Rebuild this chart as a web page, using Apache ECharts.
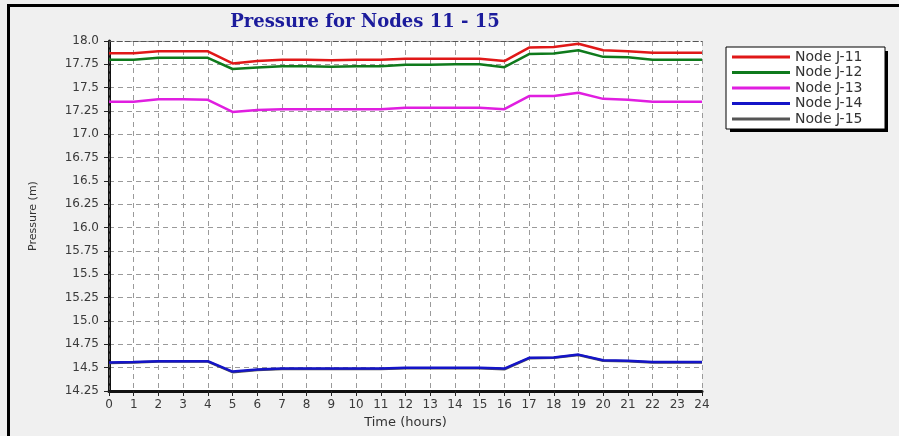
<!DOCTYPE html>
<html>
<head>
<meta charset="utf-8">
<title>Pressure for Nodes 11 - 15</title>
<script src="https://cdn.jsdelivr.net/npm/echarts@6/dist/echarts.min.js"></script>
<style>
  html, body { margin: 0; padding: 0; background: #f0f0f0; }
  #chart { width: 899px; height: 436px; }
</style>
</head>
<body>
<div id="chart"></div>
<script>
// Hours of the extended-period simulation
const hours = [0, 1, 2, 3, 4, 5, 6, 7, 8, 9, 10, 11, 12, 13, 14, 15, 16, 17, 18, 19, 20, 21, 22, 23, 24];

// Pressure (m) at each node, one value per hour
const nodeJ11 = [17.87, 17.87, 17.89, 17.89, 17.89, 17.76, 17.785, 17.80, 17.80, 17.795, 17.80, 17.80, 17.81, 17.81, 17.81, 17.81, 17.785, 17.93, 17.935, 17.97, 17.90, 17.89, 17.875, 17.875, 17.875];
const nodeJ12 = [17.80, 17.80, 17.82, 17.82, 17.82, 17.70, 17.715, 17.73, 17.73, 17.725, 17.73, 17.73, 17.745, 17.745, 17.75, 17.75, 17.72, 17.86, 17.865, 17.90, 17.83, 17.825, 17.80, 17.80, 17.80];
const nodeJ13 = [17.35, 17.35, 17.375, 17.375, 17.37, 17.24, 17.26, 17.27, 17.27, 17.27, 17.27, 17.27, 17.285, 17.285, 17.285, 17.285, 17.27, 17.41, 17.41, 17.445, 17.38, 17.37, 17.35, 17.35, 17.35];
const nodeJ14 = [14.555, 14.56, 14.57, 14.57, 14.57, 14.458, 14.48, 14.49, 14.49, 14.49, 14.49, 14.49, 14.50, 14.50, 14.50, 14.50, 14.49, 14.605, 14.61, 14.64, 14.58, 14.575, 14.56, 14.56, 14.56];
const nodeJ15 = [14.55, 14.555, 14.565, 14.565, 14.565, 14.452, 14.475, 14.485, 14.485, 14.485, 14.485, 14.485, 14.495, 14.495, 14.495, 14.495, 14.483, 14.60, 14.605, 14.635, 14.575, 14.57, 14.555, 14.555, 14.555];

const seriesNames = ['Node J-11', 'Node J-12', 'Node J-13', 'Node J-14', 'Node J-15'];

// Pressure axis tick labels, bottom to top
const yTickLabels = ['14.25', '14.5', '14.75', '15.0', '15.25', '15.5', '15.75', '16.0', '16.25', '16.5', '16.75', '17.0', '17.25', '17.5', '17.75', '18.0'];
const xTickLabels = hours.map(String);

const Y_MIN = 14.25, Y_MAX = 18.0, Y_STEP = 0.25;

const colors = ['#e01818', '#0f7a1c', '#e01ee0', '#1414c8', '#555555'];
const values = [nodeJ11, nodeJ12, nodeJ13, nodeJ14, nodeJ15];
const zOrder = [5, 4, 3, 6, 2];

const labelFont = 'DejaVu Sans';
const gridLine = { show: true, lineStyle: { color: '#9a9a9a', type: [5, 4], width: 1 } };

// legend box placement
const LEG_X = 726, LEG_Y = 47, LEG_W = 158, LEG_H = 81;

const chart = echarts.init(document.getElementById('chart'), null, { renderer: 'canvas' });

chart.setOption({
  backgroundColor: '#f0f0f0',
  animation: false,
  title: {
    text: 'Pressure for Nodes 11 - 15',
    left: 360,
    top: 8,
    textAlign: 'center',
    textStyle: {
      fontFamily: 'DejaVu Serif',
      fontWeight: 'bold',
      fontSize: 18,
      color: '#1c1c9c'
    }
  },
  legend: {
    orient: 'vertical',
    left: LEG_X,
    top: LEG_Y,
    padding: [3, 6, 3, 6],
    itemWidth: 58,
    itemHeight: 3,
    itemGap: 1.5,
    icon: 'rect',
    backgroundColor: '#ffffff',
    borderColor: '#000000',
    borderWidth: 1,
    borderRadius: 0,
    z: 10,
    textStyle: {
      fontFamily: labelFont,
      fontSize: 14,
      lineHeight: 14,
      color: '#333333',
      width: 84
    },
    data: seriesNames
  },
  grid: {
    left: 109,
    right: 197,
    top: 41,
    bottom: 45,
    show: true,
    backgroundColor: '#ffffff',
    borderWidth: 0
  },
  xAxis: [{
    type: 'value',
    min: 0,
    max: 24,
    interval: 1,
    name: 'Time (hours)',
    nameLocation: 'middle',
    nameGap: 25,
    nameTextStyle: { fontFamily: labelFont, fontSize: 13, color: '#333333' },
    axisLine: { show: true, onZero: false, lineStyle: { color: '#111111', width: 3 } },
    axisTick: { show: true, length: 5, lineStyle: { color: '#222222', width: 1 } },
    axisLabel: {
      margin: 8,
      fontFamily: labelFont,
      fontSize: 12,
      color: '#3a3a3a',
      formatter: v => xTickLabels[hours.indexOf(v)] ?? ''
    },
    splitLine: gridLine
  }, {
    type: 'value',
    position: 'top',
    min: 0,
    max: 24,
    interval: 1,
    axisLine: { show: true, lineStyle: { color: '#555555', width: 1, type: [5, 3] } },
    axisTick: { show: false },
    axisLabel: { show: false },
    splitLine: { show: false }
  }],
  yAxis: [{
    type: 'value',
    min: Y_MIN,
    max: Y_MAX,
    interval: Y_STEP,
    name: 'Pressure (m)',
    nameLocation: 'middle',
    nameRotate: 90,
    nameGap: 70,
    nameTextStyle: { fontFamily: labelFont, fontSize: 11, color: '#333333' },
    axisLine: { show: true, onZero: false, lineStyle: { color: '#111111', width: 3 } },
    axisTick: { show: true, length: 5, lineStyle: { color: '#222222', width: 1 } },
    axisLabel: {
      margin: 10,
      fontFamily: labelFont,
      fontSize: 12,
      color: '#3a3a3a',
      formatter: v => yTickLabels[Math.round((v - Y_MIN) / Y_STEP)] ?? ''
    },
    splitLine: gridLine
  }, {
    type: 'value',
    position: 'right',
    min: Y_MIN,
    max: Y_MAX,
    interval: Y_STEP,
    axisLine: { show: true, lineStyle: { color: '#555555', width: 1, type: [5, 3] } },
    axisTick: { show: false },
    axisLabel: { show: false },
    splitLine: { show: false }
  }],
  series: seriesNames.map((name, i) => ({
    name,
    type: 'line',
    xAxisIndex: 0,
    yAxisIndex: 0,
    z: zOrder[i],
    showSymbol: false,
    symbol: 'none',
    lineStyle: { color: colors[i], width: 2.5 },
    itemStyle: { color: colors[i] },
    data: hours.map((h, k) => [h, values[i][k]])
  })),
  graphic: [
    // outer frame: heavy rules along the top and left edges
    { type: 'rect', left: 7, top: 4, shape: { width: 892, height: 3 }, style: { fill: '#000000' }, silent: true },
    { type: 'rect', left: 7, top: 4, shape: { width: 3, height: 432 }, style: { fill: '#000000' }, silent: true },
    // drop shadow behind the legend box
    { type: 'rect', left: LEG_X + 4, top: LEG_Y + 4, z: 1, shape: { width: LEG_W, height: LEG_H }, style: { fill: '#000000' }, silent: true }
  ]
});
</script>
</body>
</html>
